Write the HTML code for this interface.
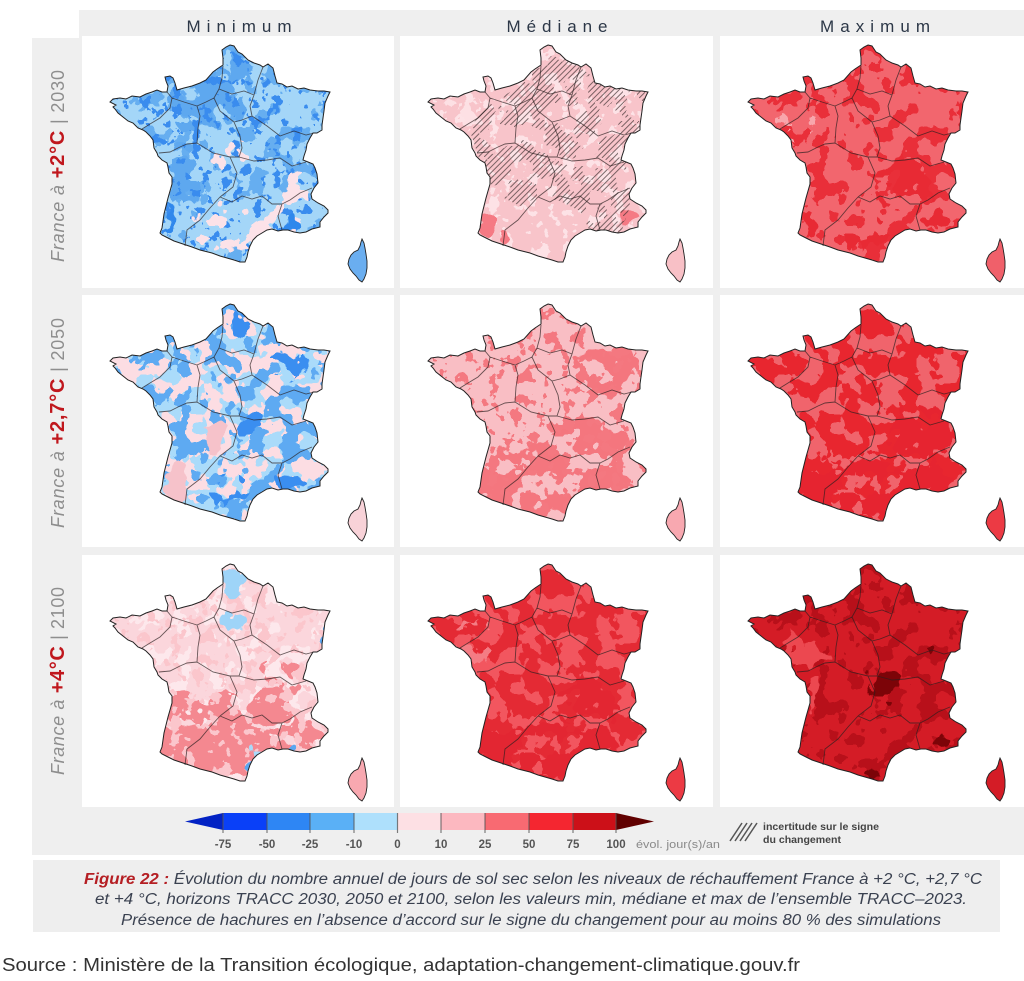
<!DOCTYPE html>
<html><head><meta charset="utf-8">
<style>
html,body{margin:0;padding:0;background:#fff;}
svg{display:block;}
text{font-family:"Liberation Sans",sans-serif;}
</style></head><body>
<svg width="1024" height="981" viewBox="0 0 1024 981" xmlns="http://www.w3.org/2000/svg">
<defs>
<path id="fr" d="M148,9 L152,10 L156,16 L160,18 L164,22 L166,24 L172,27 L178,29 L181,31 L186,28 L191,32 L193,40 L195,47 L200,48 L205,51 L210,50 L216,53 L222,52 L228,54 L236,55 L242,55 L248,56 L246,60 L243,67 L242,75 L241,82 L240,89 L240,94 L235,97 L231,97 L228,102 L225,108 L224,114 L222,120 L221,124 L226,126 L231,128 L233,132 L235,138 L236,147 L232,152 L229,158 L230,163 L236,167 L242,170 L246,174 L246,177 L242,181 L238,186 L238,191 L230,193 L224,196 L218,197 L212,196 L206,194 L201,194 L196,195 L190,193 L185,194 L180,197 L175,200 L171,204 L168,210 L166,216 L165,221 L163,226 L158,226 L152,224 L145,222 L138,220 L130,217 L122,215 L118,214 L110,211 L104,209 L98,207 L92,205 L86,202 L80,199 L78,197 L80,192 L81,185 L82,178 L84,170 L86,162 L88,155 L90,148 L90,141 L87,137 L86,131 L85,127 L80,124 L76,120 L75,117 L72,112 L71,104 L68,100 L64,96 L61,94 L56,92 L51,87 L46,85 L41,81 L36,77 L33,73 L31,71 L34,69 L28,66 L31,63 L38,62 L44,63 L50,60 L58,61 L64,58 L70,56 L75,54 L80,56 L85,56 L86,50 L84,45 L83,41 L88,40 L91,42 L93,47 L95,54 L102,52 L110,50 L118,47 L124,44 L131,36 L135,33 L141,29 L141,22 L140,14 L144,11 Z"/>
<path id="co" d="M280,203 L282,207 L283,212 L284,218 L285,225 L285,232 L284,238 L282,243 L280,246 L277,244 L274,240 L271,237 L268,233 L266,228 L267,223 L269,219 L272,216 L276,214 L278,210 L279,206 Z"/>
<clipPath id="frc"><use href="#fr"/></clipPath>
<path id="rb" fill="none" d="M85,56 L90,62 M90,62 L88,72 L78,82 L68,88 L60,93 M90,62 L102,66 L115,70 M115,70 L124,66 L132,62 M132,62 L137,53 M137,53 L140,42 L141,30 M137,53 L150,58 L162,55 L172,59 M172,59 L176,44 L181,31 M172,59 L168,70 L170,80 M132,62 L138,75 L152,86 M152,86 L160,84 L170,80 M170,80 L185,90 L198,100 L212,95 L224,99 L232,97 M115,70 L118,80 L116,92 L115,107 M115,107 L105,108 L98,111 L88,116 L77,117 M115,107 L131,117 L148,121 M152,86 L158,100 L160,112 L157,121 M148,121 L157,121 M157,121 L172,125 L185,124 L198,122 L210,130 L224,126 M148,121 L155,137 L151,151 L138,161 M138,161 L128,172 L118,184 L105,194 L103,210 M138,161 L150,166 L160,160 L170,163 L180,160 L190,168 L200,168 M200,168 L208,164 L218,157 L230,152 M200,168 L196,180 L200,194"/>
<pattern id="hatch" width="4" height="4" patternUnits="userSpaceOnUse" patternTransform="rotate(45)"><line x1="1" y1="0" x2="1" y2="4" stroke="#3d3030" stroke-width="0.8"/></pattern>

<filter id="Na" filterUnits="userSpaceOnUse" x="-10" y="-10" width="332" height="272" color-interpolation-filters="sRGB">
 <feTurbulence type="fractalNoise" baseFrequency="0.05" numOctaves="3" seed="2" result="t"/>
 <feDisplacementMap in="SourceGraphic" in2="t" scale="26" xChannelSelector="G" yChannelSelector="B" result="d"/>
 <feColorMatrix in="t" type="matrix" values="0 0 0 0 0 0 0 0 0 0 0 0 0 0 0 4 0 0 0 -1.5" result="m"/>
 <feComponentTransfer in="m" result="mm"><feFuncA type="discrete" tableValues="0 1"/></feComponentTransfer>
 <feComposite in="d" in2="mm" operator="in"/>
</filter>
<filter id="Nb" filterUnits="userSpaceOnUse" x="-10" y="-10" width="332" height="272" color-interpolation-filters="sRGB">
 <feTurbulence type="fractalNoise" baseFrequency="0.055" numOctaves="3" seed="7" result="t"/>
 <feDisplacementMap in="SourceGraphic" in2="t" scale="26" xChannelSelector="G" yChannelSelector="B" result="d"/>
 <feColorMatrix in="t" type="matrix" values="0 0 0 0 0 0 0 0 0 0 0 0 0 0 0 4 0 0 0 -1.72" result="m"/>
 <feComponentTransfer in="m" result="mm"><feFuncA type="discrete" tableValues="0 1"/></feComponentTransfer>
 <feComposite in="d" in2="mm" operator="in"/>
</filter>
<filter id="Nc" filterUnits="userSpaceOnUse" x="-10" y="-10" width="332" height="272" color-interpolation-filters="sRGB">
 <feTurbulence type="fractalNoise" baseFrequency="0.08" numOctaves="3" seed="13" result="t"/>
 <feDisplacementMap in="SourceGraphic" in2="t" scale="22" xChannelSelector="G" yChannelSelector="B" result="d"/>
 <feColorMatrix in="t" type="matrix" values="0 0 0 0 0 0 0 0 0 0 0 0 0 0 0 4 0 0 0 -1.85" result="m"/>
 <feComponentTransfer in="m" result="mm"><feFuncA type="discrete" tableValues="0 1"/></feComponentTransfer>
 <feComposite in="d" in2="mm" operator="in"/>
</filter>
<filter id="Nd" filterUnits="userSpaceOnUse" x="-10" y="-10" width="332" height="272" color-interpolation-filters="sRGB">
 <feTurbulence type="fractalNoise" baseFrequency="0.045" numOctaves="3" seed="5" result="t"/>
 <feDisplacementMap in="SourceGraphic" in2="t" scale="28" xChannelSelector="G" yChannelSelector="B" result="d"/>
 <feColorMatrix in="t" type="matrix" values="0 0 0 0 0 0 0 0 0 0 0 0 0 0 0 4 0 0 0 -1.3" result="m"/>
 <feComponentTransfer in="m" result="mm"><feFuncA type="discrete" tableValues="0 1"/></feComponentTransfer>
 <feComposite in="d" in2="mm" operator="in"/>
</filter>
<filter id="Nf" filterUnits="userSpaceOnUse" x="-10" y="-10" width="332" height="272" color-interpolation-filters="sRGB">
 <feTurbulence type="fractalNoise" baseFrequency="0.1" numOctaves="3" seed="29" result="t"/>
 <feColorMatrix in="t" type="matrix" values="0 0 0 0 0 0 0 0 0 0 0 0 0 0 0 4 0 0 0 -1.95" result="m"/>
 <feComponentTransfer in="m" result="mm"><feFuncA type="discrete" tableValues="0 1"/></feComponentTransfer>
 <feComposite in="SourceGraphic" in2="mm" operator="in"/>
</filter>
<filter id="Nh" filterUnits="userSpaceOnUse" x="-10" y="-10" width="332" height="272" color-interpolation-filters="sRGB">
 <feTurbulence type="fractalNoise" baseFrequency="0.045" numOctaves="3" seed="9" result="t"/>
 <feColorMatrix in="t" type="matrix" values="0 0 0 0 0 0 0 0 0 0 0 0 0 0 0 4 0 0 0 -1.4" result="m"/>
 <feComponentTransfer in="m" result="mm"><feFuncA type="discrete" tableValues="0 1"/></feComponentTransfer>
 <feComposite in="SourceGraphic" in2="mm" operator="in"/>
</filter>
<filter id="R" filterUnits="userSpaceOnUse" x="-10" y="-10" width="332" height="272" color-interpolation-filters="sRGB">
 <feTurbulence type="fractalNoise" baseFrequency="0.06" numOctaves="2" seed="3" result="t"/>
 <feDisplacementMap in="SourceGraphic" in2="t" scale="22" xChannelSelector="R" yChannelSelector="G"/>
</filter>
</defs>

<!-- gray frame -->
<rect x="79" y="10" width="945" height="845" fill="#efefef"/>
<rect x="32" y="38" width="48" height="817" fill="#efefef"/>
<rect x="33" y="860" width="967" height="72" fill="#eeeeee"/>

<!-- white panels -->
<g fill="#ffffff">
<rect x="82" y="36" width="312" height="252"/><rect x="400" y="36" width="313" height="252"/><rect x="720" y="36" width="304" height="252"/>
<rect x="82" y="295" width="312" height="252"/><rect x="400" y="295" width="313" height="252"/><rect x="720" y="295" width="304" height="252"/>
<rect x="82" y="555" width="312" height="252"/><rect x="400" y="555" width="313" height="252"/><rect x="720" y="555" width="304" height="252"/>
</g>

<!-- column headers -->
<text x="239" y="32" text-anchor="middle" font-size="17" fill="#2c3747" textLength="105" lengthAdjust="spacing">Minimum</text>
<text x="557" y="32" text-anchor="middle" font-size="17" fill="#2c3747" textLength="101" lengthAdjust="spacing">Médiane</text>
<text x="875" y="32" text-anchor="middle" font-size="17" fill="#2c3747" textLength="110" lengthAdjust="spacing">Maximum</text>

<!-- row labels -->
<text transform="translate(64,166) rotate(-90)" text-anchor="middle" font-size="18" textLength="192" lengthAdjust="spacing"><tspan font-style="italic" fill="#8e8e8e">France à </tspan><tspan font-weight="bold" fill="#c0171d" font-size="20">+2°C</tspan><tspan fill="#8e8e8e"> | 2030</tspan></text>
<text transform="translate(64,423) rotate(-90)" text-anchor="middle" font-size="18" textLength="210" lengthAdjust="spacing"><tspan font-style="italic" fill="#8e8e8e">France à </tspan><tspan font-weight="bold" fill="#c0171d" font-size="20">+2,7°C</tspan><tspan fill="#8e8e8e"> | 2050</tspan></text>
<text transform="translate(64,681) rotate(-90)" text-anchor="middle" font-size="18" textLength="188" lengthAdjust="spacing"><tspan font-style="italic" fill="#8e8e8e">France à </tspan><tspan font-weight="bold" fill="#c0171d" font-size="20">+4°C</tspan><tspan fill="#8e8e8e"> | 2100</tspan></text>

<!-- P11 Min 2030 -->
<g transform="translate(82,36)">
 <use href="#fr" fill="#a4d6f8"/>
 <g clip-path="url(#frc)">
  <rect width="312" height="252" fill="#66aef0" filter="url(#Nb)"/>
  <g filter="url(#Nd)" fill="#5ea8ef"><ellipse cx="125" cy="65" rx="40" ry="30"/><ellipse cx="105" cy="140" rx="18" ry="35"/><ellipse cx="160" cy="30" rx="16" ry="18"/></g>
  <rect width="312" height="252" fill="#3a8cee" filter="url(#Nf)"/>
  <g filter="url(#Nb)" fill="#fce2e8"><ellipse cx="160" cy="190" rx="55" ry="25"/><ellipse cx="215" cy="165" rx="15" ry="25"/><ellipse cx="150" cy="120" rx="20" ry="15"/></g>
  <g filter="url(#R)" fill="#3088ec"><ellipse cx="208" cy="190" rx="12" ry="6"/><ellipse cx="88" cy="180" rx="3" ry="15"/></g>
 </g>
 <use href="#rb" stroke="#2a2020" stroke-width="0.9" opacity="0.7"/>
 <use href="#fr" fill="none" stroke="#222" stroke-width="1"/>
 <use href="#co" fill="#6aaef0" stroke="#222" stroke-width="0.9"/>
</g>

<!-- P12 Med 2030 -->
<g transform="translate(400,36)">
 <use href="#fr" fill="#f8c4ca"/>
 <g clip-path="url(#frc)">
  <rect width="312" height="252" fill="#fde2e6" filter="url(#Nc)"/>
  <g filter="url(#Nd)" fill="#fde0e4"><ellipse cx="60" cy="80" rx="30" ry="15"/></g>
  <g filter="url(#R)" fill="#f57a84"><ellipse cx="88" cy="188" rx="8" ry="14"/><ellipse cx="106" cy="203" rx="6" ry="6"/><ellipse cx="228" cy="180" rx="6" ry="8"/></g>
  <g filter="url(#Nh)" opacity="0.85"><path fill="url(#hatch)" d="M70,95 L80,75 L100,62 L120,50 L135,35 L140,12 L150,8 L165,22 L185,35 L205,50 L245,56 L240,100 L226,130 L230,170 L220,200 L190,195 L180,175 L160,165 L140,160 L120,170 L100,160 L85,140 Z"/></g>
 </g>
 <use href="#rb" stroke="#2a2020" stroke-width="0.9" opacity="0.7"/>
 <use href="#fr" fill="none" stroke="#222" stroke-width="1"/>
 <use href="#co" fill="#f8c0c6" stroke="#222" stroke-width="0.9"/>
</g>

<!-- P13 Max 2030 -->
<g transform="translate(720,36)">
 <use href="#fr" fill="#f2666e"/>
 <g clip-path="url(#frc)">
  <rect width="312" height="252" fill="#e92f39" filter="url(#Nb)"/>
  <g filter="url(#Nd)" fill="#e82a34"><ellipse cx="185" cy="150" rx="28" ry="25"/><ellipse cx="222" cy="182" rx="16" ry="10"/><ellipse cx="238" cy="88" rx="5" ry="22"/><ellipse cx="145" cy="198" rx="28" ry="14"/><ellipse cx="90" cy="182" rx="5" ry="18"/></g>
  <g filter="url(#Nc)" fill="#f8a6ac"><ellipse cx="75" cy="90" rx="22" ry="16"/></g>
 </g>
 <use href="#rb" stroke="#2a2020" stroke-width="0.9" opacity="0.7"/>
 <use href="#fr" fill="none" stroke="#222" stroke-width="1"/>
 <use href="#co" fill="#f0606a" stroke="#222" stroke-width="0.9"/>
</g>

<!-- P21 Min 2050 -->
<g transform="translate(82,295)">
 <use href="#fr" fill="#aadbfa"/>
 <g clip-path="url(#frc)">
  <rect width="312" height="252" fill="#fcdde3" filter="url(#Na)"/>
  <rect width="312" height="252" fill="#5eaaf2" filter="url(#Nb)"/>
  <g filter="url(#Nd)" fill="#3a8ef0"><ellipse cx="145" cy="195" rx="25" ry="13"/><ellipse cx="212" cy="187" rx="16" ry="7"/><ellipse cx="160" cy="28" rx="12" ry="14"/><ellipse cx="205" cy="68" rx="20" ry="12"/><ellipse cx="165" cy="130" rx="10" ry="10"/></g>
  <g filter="url(#R)" fill="#f6c2ca"><ellipse cx="95" cy="188" rx="12" ry="22"/><ellipse cx="135" cy="140" rx="12" ry="15"/></g>
 </g>
 <use href="#rb" stroke="#2a2020" stroke-width="0.9" opacity="0.7"/>
 <use href="#fr" fill="none" stroke="#222" stroke-width="1"/>
 <use href="#co" fill="#f8d2d8" stroke="#222" stroke-width="0.9"/>
</g>

<!-- P22 Med 2050 -->
<g transform="translate(400,295)">
 <use href="#fr" fill="#f9bec4"/>
 <g clip-path="url(#frc)">
  <g filter="url(#Nd)" fill="#f4767e"><ellipse cx="150" cy="185" rx="80" ry="32"/><ellipse cx="190" cy="150" rx="35" ry="25"/><ellipse cx="205" cy="75" rx="30" ry="25"/><ellipse cx="222" cy="185" rx="16" ry="12"/></g>
  <rect width="312" height="252" fill="#f47880" filter="url(#Nc)"/>
 </g>
 <use href="#rb" stroke="#2a2020" stroke-width="0.9" opacity="0.7"/>
 <use href="#fr" fill="none" stroke="#222" stroke-width="1"/>
 <use href="#co" fill="#f8a8b0" stroke="#222" stroke-width="0.9"/>
</g>

<!-- P23 Max 2050 -->
<g transform="translate(720,295)">
 <use href="#fr" fill="#f0646c"/>
 <g clip-path="url(#frc)">
  <rect width="312" height="252" fill="#e8262f" filter="url(#Na)"/>
  <g filter="url(#Nd)" fill="#e62430"><ellipse cx="150" cy="190" rx="85" ry="30"/><ellipse cx="200" cy="140" rx="30" ry="30"/><ellipse cx="225" cy="180" rx="16" ry="14"/></g>
 </g>
 <use href="#rb" stroke="#2a2020" stroke-width="0.9" opacity="0.7"/>
 <use href="#fr" fill="none" stroke="#222" stroke-width="1"/>
 <use href="#co" fill="#ec3a44" stroke="#222" stroke-width="0.9"/>
</g>

<!-- P31 Min 2100 -->
<g transform="translate(82,555)">
 <use href="#fr" fill="#fbd6dc"/>
 <g clip-path="url(#frc)">
  <rect width="312" height="252" fill="#fde8ec" filter="url(#Nb)"/>
  <g filter="url(#R)" fill="#f48890"><ellipse cx="135" cy="195" rx="70" ry="26"/><ellipse cx="188" cy="152" rx="22" ry="20"/><ellipse cx="224" cy="180" rx="14" ry="12"/></g>
  <g filter="url(#Nd)" fill="#f48890"><ellipse cx="140" cy="165" rx="80" ry="25"/><ellipse cx="200" cy="120" rx="25" ry="15"/></g>
  <rect width="312" height="252" fill="#fbc6cc" filter="url(#Nc)"/>
  <g filter="url(#Na)" fill="#9ed4f8"><ellipse cx="152" cy="25" rx="12" ry="18"/><ellipse cx="150" cy="65" rx="12" ry="8"/><ellipse cx="70" cy="110" rx="6" ry="10"/></g>
  <g filter="url(#R)" fill="#5aa6f0"><ellipse cx="242" cy="80" rx="3" ry="16"/><ellipse cx="205" cy="196" rx="8" ry="4"/><ellipse cx="170" cy="212" rx="5" ry="9"/></g>
  <g filter="url(#R)" fill="#a8dafa"><ellipse cx="176" cy="204" rx="7" ry="9"/></g>
 </g>
 <use href="#rb" stroke="#2a2020" stroke-width="0.9" opacity="0.7"/>
 <use href="#fr" fill="none" stroke="#222" stroke-width="1"/>
 <use href="#co" fill="#f8a8b0" stroke="#222" stroke-width="0.9"/>
</g>

<!-- P32 Med 2100 -->
<g transform="translate(400,555)">
 <use href="#fr" fill="#f2565f"/>
 <g clip-path="url(#frc)">
  <rect width="312" height="252" fill="#e42a34" filter="url(#Na)"/>
  <g filter="url(#Nd)" fill="#e32632"><ellipse cx="140" cy="195" rx="80" ry="30"/><ellipse cx="190" cy="150" rx="30" ry="25"/></g>
  <g filter="url(#Nb)" fill="#f47c84"><ellipse cx="70" cy="90" rx="32" ry="20"/></g>
 </g>
 <use href="#rb" stroke="#2a2020" stroke-width="0.9" opacity="0.7"/>
 <use href="#fr" fill="none" stroke="#222" stroke-width="1"/>
 <use href="#co" fill="#ec3a44" stroke="#222" stroke-width="0.9"/>
</g>

<!-- P33 Max 2100 -->
<g transform="translate(720,555)">
 <use href="#fr" fill="#d41c26"/>
 <g clip-path="url(#frc)">
  <rect width="312" height="252" fill="#b8101a" filter="url(#Nb)"/>
  <g filter="url(#Nd)" fill="#ec4850"><ellipse cx="80" cy="98" rx="25" ry="20"/><ellipse cx="95" cy="140" rx="8" ry="15"/></g>
  <g filter="url(#Nd)" fill="#7c0408"><ellipse cx="162" cy="135" rx="14" ry="18"/><ellipse cx="225" cy="186" rx="12" ry="8"/><ellipse cx="150" cy="222" rx="12" ry="6"/><ellipse cx="208" cy="90" rx="5" ry="4"/></g>
 </g>
 <use href="#rb" stroke="#2a2020" stroke-width="0.9" opacity="0.7"/>
 <use href="#fr" fill="none" stroke="#222" stroke-width="1"/>
 <use href="#co" fill="#d41c26" stroke="#222" stroke-width="0.9"/>
</g>

<!-- colorbar -->
<polygon points="185,821.5 223,813 223,830" fill="#0222c4"/>
<rect x="223" y="813" width="44" height="17" fill="#0a40f8"/>
<rect x="267" y="813" width="43" height="17" fill="#2e86f4"/>
<rect x="310" y="813" width="44" height="17" fill="#5ab0f6"/>
<rect x="354" y="813" width="43.5" height="17" fill="#aee0fc"/>
<rect x="397.5" y="813" width="43.5" height="17" fill="#fde0e4"/>
<rect x="441" y="813" width="44" height="17" fill="#fcb8c0"/>
<rect x="485" y="813" width="44" height="17" fill="#f86a72"/>
<rect x="529" y="813" width="44" height="17" fill="#f42630"/>
<rect x="573" y="813" width="43" height="17" fill="#cc1018"/>
<polygon points="616,813 654,821.5 616,830" fill="#600000"/>
<g stroke="#555" stroke-width="1.2" opacity="0.75">
<line x1="223" y1="813" x2="223" y2="833"/><line x1="267" y1="813" x2="267" y2="833"/><line x1="310" y1="813" x2="310" y2="833"/><line x1="354" y1="813" x2="354" y2="833"/><line x1="397.5" y1="813" x2="397.5" y2="833"/><line x1="441" y1="813" x2="441" y2="833"/><line x1="485" y1="813" x2="485" y2="833"/><line x1="529" y1="813" x2="529" y2="833"/><line x1="573" y1="813" x2="573" y2="833"/><line x1="616" y1="813" x2="616" y2="833"/>
</g>
<g font-size="11.5" font-weight="bold" fill="#555" text-anchor="middle">
<text x="223" y="848">-75</text><text x="267" y="848">-50</text><text x="310" y="848">-25</text><text x="354" y="848">-10</text><text x="397.5" y="848">0</text><text x="441" y="848">10</text><text x="485" y="848">25</text><text x="529" y="848">50</text><text x="573" y="848">75</text><text x="616" y="848">100</text>
</g>
<text x="636" y="848" font-size="11" fill="#8a8a8a" textLength="84" lengthAdjust="spacingAndGlyphs">évol. jour(s)/an</text>

<!-- hatch legend -->
<g stroke="#555" stroke-width="1.5">
<line x1="730" y1="841" x2="742" y2="823"/><line x1="735" y1="841" x2="747" y2="823"/><line x1="740" y1="841" x2="752" y2="823"/><line x1="745" y1="841" x2="757" y2="823"/>
</g>
<text x="763" y="830" font-size="10.5" font-weight="bold" fill="#444" textLength="116" lengthAdjust="spacingAndGlyphs">incertitude sur le signe</text>
<text x="763" y="843" font-size="10.5" font-weight="bold" fill="#444" textLength="78" lengthAdjust="spacingAndGlyphs">du changement</text>

<!-- caption -->
<g font-size="15.5" font-style="italic" fill="#3a4150">
<text x="84" y="884" textLength="898" lengthAdjust="spacingAndGlyphs"><tspan font-weight="bold" fill="#b51f24">Figure 22 :</tspan> Évolution du nombre annuel de jours de sol sec selon les niveaux de réchauffement France à +2 °C, +2,7 °C</text>
<text x="95" y="904" textLength="872" lengthAdjust="spacingAndGlyphs">et +4 °C, horizons TRACC 2030, 2050 et 2100, selon les valeurs min, médiane et max de l’ensemble TRACC–2023.</text>
<text x="121" y="925" textLength="820" lengthAdjust="spacingAndGlyphs">Présence de hachures en l’absence d’accord sur le signe du changement pour au moins 80 % des simulations</text>
</g>

<!-- source -->
<text x="2" y="971" font-size="18" fill="#333" textLength="798" lengthAdjust="spacingAndGlyphs">Source : Ministère de la Transition écologique, adaptation-changement-climatique.gouv.fr</text>
</svg>
</body></html>
